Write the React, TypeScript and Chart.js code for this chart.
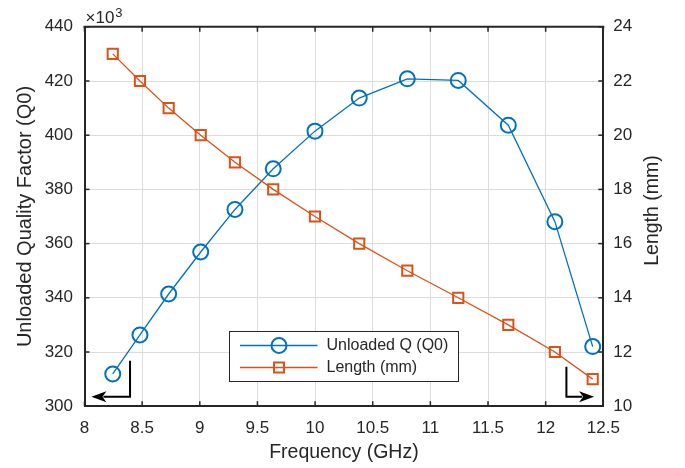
import React, { useEffect, useRef } from "react";
import { Chart, registerables } from "chart.js";

Chart.register(...registerables);

// ---- data ----
const frequencyGHz = [8.245, 8.481, 8.73, 9.008, 9.305, 9.637, 9.999, 10.383, 10.8, 11.242, 11.676, 12.08, 12.408];
const unloadedQk = [311.9, 326.3, 341.4, 356.9, 372.6, 387.6, 401.5, 413.7, 420.8, 420.2, 403.7, 368.1, 322.0]; // x 10^3
const lengthMm = [23, 22, 21, 20, 19, 18, 17, 16, 15, 14, 13, 12, 11];
const seriesNames = ["Unloaded Q (Q0)", "Length (mm)"];
const axisTitles = { x: "Frequency (GHz)", yLeft: "Unloaded Quality Factor (Q0)", yRight: "Length (mm)" };

// annotation arrows (data coordinates: frequency, Q in thousands)
const leftArrow = { x: 8.395, yTop: 316.8, yBottom: 303.5, tipX: 8.06 };
const rightArrow = { x: 12.18, yTop: 314.6, yBottom: 303.5, tipX: 12.42 };

const BLUE = "#0072BD";
const ORANGE = "#D95319";
const AXIS = "#262626";
const GRID = "#dcdcdc";
const FONT = "'Liberation Sans', Arial, Helvetica, sans-serif";

function drawArrow(ctx: CanvasRenderingContext2D, chart: any, a: any, dir: number) {
  const xs = chart.scales.x;
  const ys = chart.scales.y;
  const px = xs.getPixelForValue(a.x);
  const pt = ys.getPixelForValue(a.yTop);
  const pb = ys.getPixelForValue(a.yBottom);
  const tip = xs.getPixelForValue(a.tipX);
  const headLen = 15;
  const headHalf = 5.5;
  ctx.save();
  ctx.strokeStyle = "#000";
  ctx.fillStyle = "#000";
  ctx.lineWidth = 2;
  ctx.beginPath();
  ctx.moveTo(px, pt);
  ctx.lineTo(px, pb);
  ctx.lineTo(tip - dir * (headLen - 3), pb);
  ctx.stroke();
  ctx.beginPath();
  ctx.moveTo(tip, pb);
  ctx.lineTo(tip - dir * headLen, pb - headHalf);
  ctx.lineTo(tip - dir * (headLen - 4), pb);
  ctx.lineTo(tip - dir * headLen, pb + headHalf);
  ctx.closePath();
  ctx.fill();
  ctx.restore();
}

const decorPlugin = {
  id: "decor",
  afterDraw(chart: any) {
    const ctx: CanvasRenderingContext2D = chart.ctx;
    const { left, right, top, bottom } = chart.chartArea;
    const xs = chart.scales.x;
    const ys = chart.scales.y;
    const y1 = chart.scales.y1;
    ctx.save();
    // top border
    ctx.strokeStyle = AXIS;
    ctx.lineWidth = 2;
    ctx.beginPath();
    ctx.moveTo(left - 1, top);
    ctx.lineTo(right + 1, top);
    ctx.stroke();
    // inward tick marks
    ctx.lineWidth = 1.5;
    const seg = (x1: number, y1p: number, x2: number, y2: number) => {
      ctx.beginPath();
      ctx.moveTo(x1, y1p);
      ctx.lineTo(x2, y2);
      ctx.stroke();
    };
    xs.ticks.forEach((t: any) => {
      const p = xs.getPixelForValue(t.value);
      seg(p, bottom, p, bottom - 5);
      seg(p, top, p, top + 5);
    });
    ys.ticks.forEach((t: any) => {
      const p = ys.getPixelForValue(t.value);
      seg(left, p, left + 5, p);
    });
    y1.ticks.forEach((t: any) => {
      const p = y1.getPixelForValue(t.value);
      seg(right, p, right - 5, p);
    });

    // x10^3 exponent label
    ctx.fillStyle = AXIS;
    ctx.textAlign = "left";
    ctx.textBaseline = "alphabetic";
    ctx.font = `17px ${FONT}`;
    const base = "\u00d710";
    ctx.fillText(base, left + 1, top - 3.5);
    const w = ctx.measureText(base).width;
    ctx.font = `13px ${FONT}`;
    ctx.fillText("3", left + 1 + w + 1, top - 10);

    // right axis title (reads bottom to top)
    ctx.save();
    ctx.translate(653, (top + bottom) / 2 - 6);
    ctx.rotate(-Math.PI / 2);
    ctx.font = `19.5px ${FONT}`;
    ctx.textAlign = "center";
    ctx.textBaseline = "middle";
    ctx.fillText(axisTitles.yRight, 0, 0);
    ctx.restore();

    // arrows
    drawArrow(ctx, chart, leftArrow, -1);
    drawArrow(ctx, chart, rightArrow, 1);

    // legend
    const lx = left + 145;
    const ly = top + 304.7;
    const lw = 229;
    const lh = 50;
    ctx.fillStyle = "#fff";
    ctx.fillRect(lx, ly, lw, lh);
    ctx.strokeStyle = AXIS;
    ctx.lineWidth = 1;
    ctx.strokeRect(lx, ly, lw, lh);
    const rows = [ly + 14, ly + 36];
    const ds = chart.data.datasets;
    rows.forEach((ry, i) => {
      const d = ds[i];
      ctx.strokeStyle = d.borderColor;
      ctx.lineWidth = 1.3;
      ctx.beginPath();
      ctx.moveTo(lx + 10.5, ry);
      ctx.lineTo(lx + 88, ry);
      ctx.stroke();
      ctx.lineWidth = 2;
      const cx = lx + 49.5;
      ctx.beginPath();
      if (d.pointStyle === "circle") {
        ctx.arc(cx, ry, 7.5, 0, Math.PI * 2);
      } else {
        ctx.rect(cx - 5, ry - 5, 10, 10);
      }
      ctx.stroke();
      ctx.fillStyle = AXIS;
      ctx.font = `16px ${FONT}`;
      ctx.textAlign = "left";
      ctx.textBaseline = "middle";
      ctx.fillText(d.label, lx + 97, ry + 0.5);
    });
    ctx.restore();
  },
};

export default function App() {
  const ref = useRef<HTMLCanvasElement | null>(null);
  useEffect(() => {
    if (!ref.current) return;
    const qPoints = frequencyGHz.map((f, i) => ({ x: f, y: unloadedQk[i] }));
    const lPoints = frequencyGHz.map((f, i) => ({ x: f, y: lengthMm[i] }));
    const tickFont = { family: FONT, size: 17 };
    const fmt = (v: any) => String(Number(v));
    const chart = new Chart(ref.current, {
      type: "line",
      data: {
        datasets: [
          {
            label: seriesNames[0],
            data: qPoints,
            yAxisID: "y",
            borderColor: BLUE,
            backgroundColor: "rgba(0,0,0,0)",
            borderWidth: 1.3,
            pointStyle: "circle",
            pointRadius: 7.5,
            pointBorderWidth: 2,
            pointBorderColor: BLUE,
            pointBackgroundColor: "rgba(0,0,0,0)",
            tension: 0,
            order: 1,
          },
          {
            label: seriesNames[1],
            data: lPoints,
            yAxisID: "y1",
            borderColor: ORANGE,
            backgroundColor: "rgba(0,0,0,0)",
            borderWidth: 1.3,
            pointStyle: "rect",
            pointRadius: 7.2,
            pointBorderWidth: 2,
            pointBorderColor: ORANGE,
            pointBackgroundColor: "rgba(0,0,0,0)",
            tension: 0,
            order: 0,
          },
        ],
      },
      options: {
        responsive: false,
        animation: false,
        devicePixelRatio: 1,
        layout: { padding: { top: 26.8, left: 0, right: 0, bottom: 0 } },
        plugins: { legend: { display: false }, tooltip: { enabled: false } },
        scales: {
          x: {
            type: "linear",
            min: 8,
            max: 12.5,
            ticks: { stepSize: 0.5, font: tickFont, color: AXIS, padding: 12, maxRotation: 0, autoSkip: false, callback: fmt },
            grid: { color: GRID, lineWidth: 1, drawTicks: false },
            border: { display: true, color: AXIS, width: 2 },
            title: { display: true, text: axisTitles.x, font: { family: FONT, size: 19.5 }, color: AXIS, padding: { top: 0, bottom: 4 } },
            afterFit: (s: any) => {
              s.height = 61.8;
            },
          },
          y: {
            type: "linear",
            position: "left",
            min: 300,
            max: 440,
            ticks: { stepSize: 20, font: tickFont, color: AXIS, padding: 11.5, callback: fmt },
            grid: { color: GRID, lineWidth: 1, drawTicks: false },
            border: { display: true, color: AXIS, width: 2 },
            title: { display: true, text: axisTitles.yLeft, font: { family: FONT, size: 20 }, color: AXIS, padding: { top: 13, bottom: 0 } },
            afterFit: (s: any) => {
              s.width = 84.5;
            },
          },
          y1: {
            type: "linear",
            position: "right",
            min: 10,
            max: 24,
            ticks: { stepSize: 2, font: tickFont, color: AXIS, padding: 10, callback: fmt },
            grid: { drawOnChartArea: false, drawTicks: false },
            border: { display: true, color: AXIS, width: 2 },
            title: { display: false },
            afterFit: (s: any) => {
              s.width = 81.7;
            },
          },
        },
      },
      plugins: [decorPlugin],
    } as any);
    return () => chart.destroy();
  }, []);
  return (
    <div style={{ position: "absolute", left: 0, top: 0, width: 685, height: 468, background: "#fff" }}>
      <canvas ref={ref} width={685} height={468} style={{ width: 685, height: 468, display: "block" }} />
    </div>
  );
}
